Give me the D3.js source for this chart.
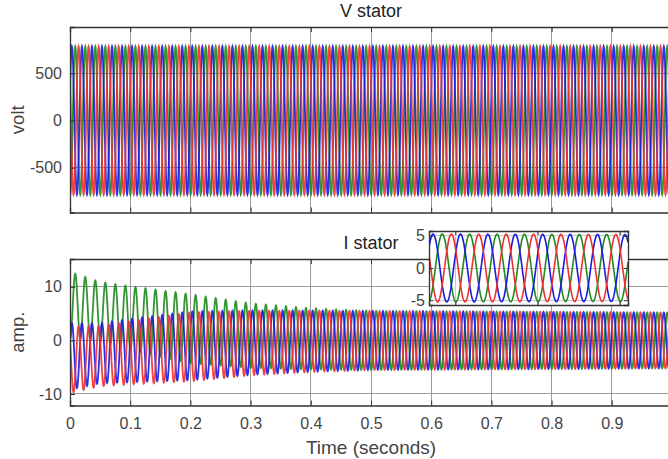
<!DOCTYPE html>
<html>
<head>
<meta charset="utf-8">
<script src="https://cdn.jsdelivr.net/npm/d3@7/dist/d3.min.js"></script>
<style>
  html, body { margin: 0; padding: 0; background: #fff; }
  svg { display: block; font-family: "Liberation Sans", Arial, sans-serif; }
</style>
</head>
<body>
<svg id="chart" width="668" height="459"></svg>
<script>
// ---------------- data ----------------
const xTicks = [0, 0.1, 0.2, 0.3, 0.4, 0.5, 0.6, 0.7, 0.8, 0.9, 1.0];
const xTickLabels = ["0", "0.1", "0.2", "0.3", "0.4", "0.5", "0.6", "0.7", "0.8", "0.9", ""];
const vTicks = [-500, 0, 500];
const iTicks = [-10, 0, 10];
const insetTicksY = [-5, 0, 5];
const insetTicksX = [0.9, 0.95, 1.0];
const phases = ["green", "blue", "red"];
const phaseShiftCycles = [0, 1 / 3, -1 / 3];   // blue leads green, red lags green
const freqHz = 60;
const greenPeakTime = 0.0087;                  // s, first green peak
const vAmplitude = 785;                        // volt
// current envelope read at these instants
const envTime = [0, 0.05, 0.1, 0.2, 0.3, 0.4, 0.5, 1.0];
const iAmplitude = [6.2, 5.6, 5.9, 6.4, 6.0, 5.7, 5.5, 5.2];
const greenOffset = [6.6, 5.3, 4.2, 2.2, 0.9, 0.3, 0.0, 0.0];
const otherOffsetShare = [-0.45, -0.55];       // blue, red share of green's dc offset
const insetDomain = [0.884, 1.005];

// ---------------- layout / style ----------------
const colors = { green: "#1f8a1f", blue: "#1a1ae0", red: "#ee3030" };
const left = 70, right = 672;
const vTop = 27, vBottom = 212.5;
const iTop = 259, iBottom = 405.5;
const inset = { x0: 429, x1: 628, y0: 231, y1: 305 };
const gridColor = "#9a9a9a", axisColor = "#333", textColor = "#444";
const fmt = d => String(d);  // plain hyphen minus, as in the reference

const svg = d3.select("#chart");
const x = d3.scaleLinear().domain([0, 1]).range([left, right]);
const yV = d3.scaleLinear().domain([-975, 990]).range([vBottom, vTop]);
const yI = d3.scaleLinear().domain([-12.15, 15.2]).range([iBottom, iTop]);

const ampAt = d3.scaleLinear().domain(envTime).range(iAmplitude).clamp(true);
const offAt = d3.scaleLinear().domain(envTime).range(greenOffset).clamp(true);

function phaseArg(t, k) {
  return 2 * Math.PI * (freqHz * (t - greenPeakTime) + phaseShiftCycles[k]);
}
function voltage(t, k) { return vAmplitude * Math.cos(phaseArg(t, k)); }
function current(t, k) {
  const d = offAt(t);
  const off = k === 0 ? d : d * otherOffsetShare[k - 1];
  return ampAt(t) * Math.cos(phaseArg(t, k)) + off;
}
function sampleTimes(t0, t1, perCycle) {
  const n = Math.ceil((t1 - t0) * freqHz * perCycle);
  return d3.range(n + 1).map(i => t0 + (t1 - t0) * i / n);
}

const defs = svg.append("defs");
function clip(id, x0, y0, x1, y1) {
  defs.append("clipPath").attr("id", id).append("rect")
    .attr("x", x0).attr("y", y0).attr("width", x1 - x0).attr("height", y1 - y0);
}
clip("clipV", left, vTop, right, vBottom);
clip("clipI", left, iTop, right, iBottom);
clip("clipIn", inset.x0, inset.y0, inset.x1, inset.y1);

function styleAxis(a, fs) {
  a.select(".domain").attr("stroke", axisColor).attr("stroke-width", 1.3);
  a.selectAll(".tick line").attr("stroke", axisColor);
  a.selectAll(".tick text").attr("fill", textColor).attr("font-size", fs)
    .attr("font-family", "'Liberation Sans', Arial, sans-serif");
}

function panel(ys, yt, top, bottom, clipId, fn, title, titleY, ylabel, showX) {
  const g = svg.append("g");
  g.append("rect").attr("x", left).attr("y", top).attr("width", right - left).attr("height", bottom - top).attr("fill", "#fff");
  g.selectAll(null).data(xTicks).enter().append("line")
    .attr("x1", d => x(d)).attr("x2", d => x(d)).attr("y1", top).attr("y2", bottom)
    .attr("stroke", gridColor).attr("stroke-width", 1).attr("shape-rendering", "crispEdges");
  g.selectAll(null).data(yt).enter().append("line")
    .attr("x1", left).attr("x2", right).attr("y1", d => ys(d)).attr("y2", d => ys(d))
    .attr("stroke", gridColor).attr("stroke-width", 1).attr("shape-rendering", "crispEdges");
  const ts = sampleTimes(0, 1, 48);
  const lines = g.append("g").attr("clip-path", `url(#${clipId})`);
  phases.forEach((p, k) => {
    const line = d3.line().x(t => x(t)).y(t => ys(fn(t, k)));
    lines.append("path").attr("d", line(ts)).attr("fill", "none")
      .attr("stroke", colors[p]).attr("stroke-width", 1.8).attr("stroke-opacity", 0.9);
  });
  const xAxisB = d3.axisBottom(x).tickValues(xTicks).tickSize(-5).tickPadding(12)
    .tickFormat((d, i) => showX ? xTickLabels[i] : "");
  const xAxisT = d3.axisTop(x).tickValues(xTicks).tickSize(-5).tickFormat("");
  const yAxisL = d3.axisLeft(ys).tickValues(yt).tickSize(-5).tickPadding(8).tickFormat(fmt);
  const gxb = g.append("g").attr("transform", `translate(0,${bottom})`).call(xAxisB);
  const gxt = g.append("g").attr("transform", `translate(0,${top})`).call(xAxisT);
  const gyl = g.append("g").attr("transform", `translate(${left},0)`).call(yAxisL);
  [gxb, gxt, gyl].forEach(a => styleAxis(a, 16));
  g.append("text").attr("x", (left + right) / 2).attr("y", titleY)
    .attr("text-anchor", "middle").attr("font-size", 18).attr("fill", "#222").text(title);
  g.append("text").attr("transform", `translate(24,${(top + bottom) / 2}) rotate(-90)`)
    .attr("text-anchor", "middle").attr("font-size", 18.5).attr("fill", textColor).text(ylabel);
}

panel(yV, vTicks, vTop, vBottom, "clipV", voltage, "V stator", "V stator".length ? 17 : 17, "volt", false);
panel(yI, iTicks, iTop, iBottom, "clipI", current, "I stator", 249, "amp.", true);

svg.append("text").attr("x", (left + right) / 2).attr("y", 454)
  .attr("text-anchor", "middle").attr("font-size", 19).attr("fill", textColor).text("Time (seconds)");

// ---------------- inset ----------------
const xIn = d3.scaleLinear().domain(insetDomain).range([inset.x0, inset.x1]);
const yIn = d3.scaleLinear().domain([-5.75, 5.75]).range([inset.y1, inset.y0]);
const gIn = svg.append("g");
gIn.append("rect").attr("x", inset.x0).attr("y", inset.y0)
  .attr("width", inset.x1 - inset.x0).attr("height", inset.y1 - inset.y0).attr("fill", "#fff");
gIn.selectAll(null).data(insetTicksY).enter().append("line")
  .attr("x1", inset.x0).attr("x2", inset.x1).attr("y1", d => yIn(d)).attr("y2", d => yIn(d))
  .attr("stroke", "#c8c8c8").attr("stroke-width", 1).attr("shape-rendering", "crispEdges");
gIn.selectAll(null).data(insetTicksX).enter().append("line")
  .attr("x1", d => xIn(d)).attr("x2", d => xIn(d)).attr("y1", inset.y0).attr("y2", inset.y1)
  .attr("stroke", "#c8c8c8").attr("stroke-width", 1).attr("shape-rendering", "crispEdges");
const tsIn = sampleTimes(insetDomain[0], insetDomain[1], 80);
const inLines = gIn.append("g").attr("clip-path", "url(#clipIn)");
phases.forEach((p, k) => {
  const line = d3.line().x(t => xIn(t)).y(t => yIn(current(t, k)));
  inLines.append("path").attr("d", line(tsIn)).attr("fill", "none")
    .attr("stroke", colors[p]).attr("stroke-width", 1.6);
});
const inAxL = gIn.append("g").attr("transform", `translate(${inset.x0},0)`)
  .call(d3.axisLeft(yIn).tickValues(insetTicksY).tickSize(-4).tickPadding(4).tickFormat(fmt));
const inAxB = gIn.append("g").attr("transform", `translate(0,${inset.y1})`)
  .call(d3.axisBottom(xIn).tickValues(insetTicksX).tickSize(-4).tickFormat(""));
const inAxT = gIn.append("g").attr("transform", `translate(0,${inset.y0})`)
  .call(d3.axisTop(xIn).tickValues(insetTicksX).tickSize(-4).tickFormat(""));
const inAxR = gIn.append("g").attr("transform", `translate(${inset.x1},0)`)
  .call(d3.axisRight(yIn).tickValues(insetTicksY).tickSize(-4).tickFormat(""));
[inAxL, inAxB, inAxT, inAxR].forEach(a => styleAxis(a, 16));
</script>
</body>
</html>
